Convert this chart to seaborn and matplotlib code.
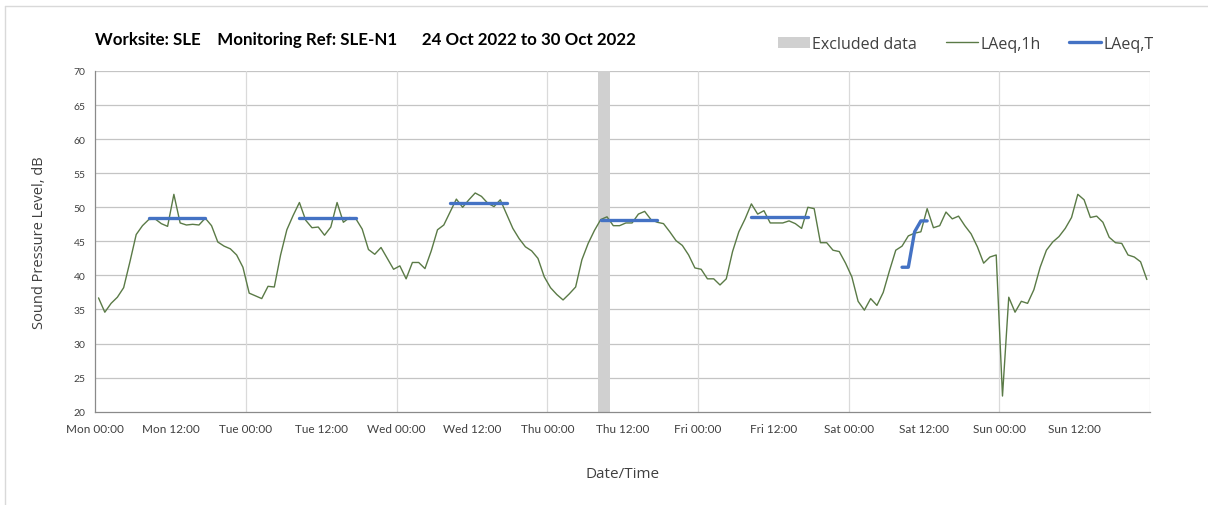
import numpy as np
import pandas as pd
import matplotlib
matplotlib.use('Agg')
import matplotlib.pyplot as plt
import seaborn as sns
from matplotlib.patches import Patch
from matplotlib.lines import Line2D

# hourly LAeq,1h values, Mon 24 Oct 00:00 -> Sun 30 Oct 23:00
laeq_1h = [
    # Mon
    36.7, 34.6, 35.9, 36.8, 38.2, 42.0, 46.0, 47.3, 48.2, 48.3, 47.6, 47.2,
    51.9, 47.7, 47.4, 47.5, 47.4, 48.4, 47.3, 44.9, 44.3, 43.9, 43.0, 41.2,
    # Tue
    37.4, 37.0, 36.6, 38.4, 38.3, 43.0, 46.7, 48.8, 50.7, 48.1, 47.0, 47.1,
    45.9, 47.1, 50.7, 47.8, 48.5, 48.3, 46.8, 43.8, 43.1, 44.1, 42.5, 40.9,
    # Wed
    41.4, 39.5, 41.9, 41.9, 41.0, 43.6, 46.7, 47.4, 49.3, 51.2, 50.0, 51.1,
    52.1, 51.6, 50.6, 50.1, 51.1, 49.0, 46.9, 45.4, 44.2, 43.6, 42.5, 39.8,
    # Thu
    38.2, 37.2, 36.4, 37.3, 38.3, 42.3, 44.7, 46.6, 48.2, 48.6, 47.3, 47.3,
    47.7, 47.7, 49.0, 49.4, 48.2, 47.8, 47.6, 46.4, 45.1, 44.4, 43.0, 41.1,
    # Fri
    40.9, 39.5, 39.5, 38.6, 39.5, 43.5, 46.4, 48.3, 50.5, 49.0, 49.5, 47.7,
    47.7, 47.7, 48.0, 47.6, 46.9, 50.0, 49.8, 44.8, 44.8, 43.7, 43.5, 41.8,
    # Sat
    39.8, 36.2, 34.9, 36.6, 35.6, 37.5, 40.7, 43.7, 44.3, 45.8, 46.2, 46.4,
    49.8, 47.0, 47.3, 49.3, 48.3, 48.7, 47.3, 46.1, 44.2, 41.8, 42.7, 43.0,
    # Sun
    22.3, 36.8, 34.6, 36.2, 35.9, 37.9, 41.2, 43.7, 44.9, 45.7, 46.9, 48.5,
    51.9, 51.1, 48.5, 48.7, 47.8, 45.6, 44.8, 44.7, 43.0, 42.7, 42.0, 39.4,
]

# LAeq,T over the working periods
weekdays = ['2022-10-24', '2022-10-25', '2022-10-26', '2022-10-27', '2022-10-28']
laeq_t_weekday = [48.4, 48.4, 50.7, 48.1, 48.6]
weekday_hours = [8, 9, 10, 11, 12, 13, 14, 15, 16, 17]
sat_hours = [8, 9, 10, 11, 12]
laeq_t_sat = [41.2, 41.2, 46.4, 48.0, 48.0]

excluded_start = '2022-10-27 08:00'
excluded_end = '2022-10-27 10:00'

start = pd.Timestamp('2022-10-24 00:00')
end = pd.Timestamp('2022-10-31 00:00')

df_1h = pd.DataFrame({
    'time': pd.date_range('2022-10-24 00:30', periods=len(laeq_1h), freq='h'),
    'level': laeq_1h,
})

rows = []
for day, val in zip(weekdays, laeq_t_weekday):
    for h in weekday_hours:
        rows.append({'time': pd.Timestamp(day) + pd.Timedelta(hours=h, minutes=30),
                     'level': val, 'period': day})
for h, val in zip(sat_hours, laeq_t_sat):
    rows.append({'time': pd.Timestamp('2022-10-29') + pd.Timedelta(hours=h, minutes=30),
                 'level': val, 'period': '2022-10-29'})
df_t = pd.DataFrame(rows)

sns.set_style('white')
plt.rcParams['font.family'] = ['Open Sans', 'DejaVu Sans']

green = '#5a7a46'
blue = '#4472c4'

fig = plt.figure(figsize=(12.08, 5.06), dpi=100)
ax = fig.add_axes([95.4 / 1208, 1 - 412.7 / 506, (1150 - 95.4) / 1208, (412.7 - 72) / 506])

ax.axvspan(pd.Timestamp(excluded_start), pd.Timestamp(excluded_end),
           color='#d0d0d0', lw=0, zorder=1)

sns.lineplot(data=df_1h, x='time', y='level', color=green, linewidth=1.0, ax=ax, zorder=3)
sns.lineplot(data=df_t, x='time', y='level', units='period', estimator=None,
             color=blue, linewidth=2.4, ax=ax, zorder=4)

ax.set_xlim(start, end)
ax.set_ylim(20, 70)
ax.set_yticks(np.arange(20, 71, 5))

ticks = pd.date_range(start, end, freq='12h')
ax.set_xticks(ticks)
ax.set_xticklabels([t.strftime('%a %H:%M') for t in ticks[:-1]] + [''])

# grid
for y in range(25, 71, 5):
    ax.axhline(y, color='#c4c4c4', lw=0.9, zorder=0)
for d in pd.date_range(start + pd.Timedelta(days=1), end, freq='D'):
    ax.axvline(d, color='#dadada', lw=0.9, zorder=0)

for s in ['top', 'right']:
    ax.spines[s].set_visible(False)
for s in ['left', 'bottom']:
    ax.spines[s].set_color('#8a8a8a')
    ax.spines[s].set_linewidth(0.9)

ax.tick_params(axis='both', which='major', direction='out', length=4, width=0.8,
               color='#8a8a8a', labelcolor='#404040')
ax.tick_params(axis='x', labelsize=8.5, pad=4)
ax.tick_params(axis='y', labelsize=7.5, pad=3)
for lab in ax.get_xticklabels() + ax.get_yticklabels():
    lab.set_family(['Lato', 'DejaVu Sans'])

ax.set_xlabel('Date/Time', fontsize=11, color='#404040', labelpad=23)
ax.set_ylabel('Sound Pressure Level, dB', fontsize=10.5, color='#404040', labelpad=19)

fig.text(95 / 1208, 1 - 40 / 506,
         'Worksite: SLE    Monitoring Ref: SLE-N1      24 Oct 2022 to 30 Oct 2022',
         fontsize=12.2, fontweight='bold', family=['Lato', 'DejaVu Sans'],
         color='black', va='center', ha='left')

handles = [
    Patch(facecolor='#d0d0d0', edgecolor='none', label='Excluded data'),
    Line2D([0], [0], color=green, lw=1.0, label='LAeq,1h'),
    Line2D([0], [0], color=blue, lw=2.4, label='LAeq,T'),
]
leg = fig.legend(handles=handles, loc='center right', bbox_to_anchor=(1168 / 1208, 1 - 45 / 506),
                 ncol=3, frameon=False, fontsize=11.5, handlelength=2.0, handletextpad=0.15,
                 columnspacing=1.8, labelcolor='#404040')

# chart border
fig.add_artist(Line2D([5 / 1208, 5 / 1208], [0, 1 - 7 / 506], color='#d9d9d9', lw=1,
                      transform=fig.transFigure))
fig.add_artist(Line2D([5 / 1208, 1], [1 - 7 / 506, 1 - 7 / 506], color='#d9d9d9', lw=1,
                      transform=fig.transFigure))

fig.savefig('out.png', dpi=100, facecolor='white')
